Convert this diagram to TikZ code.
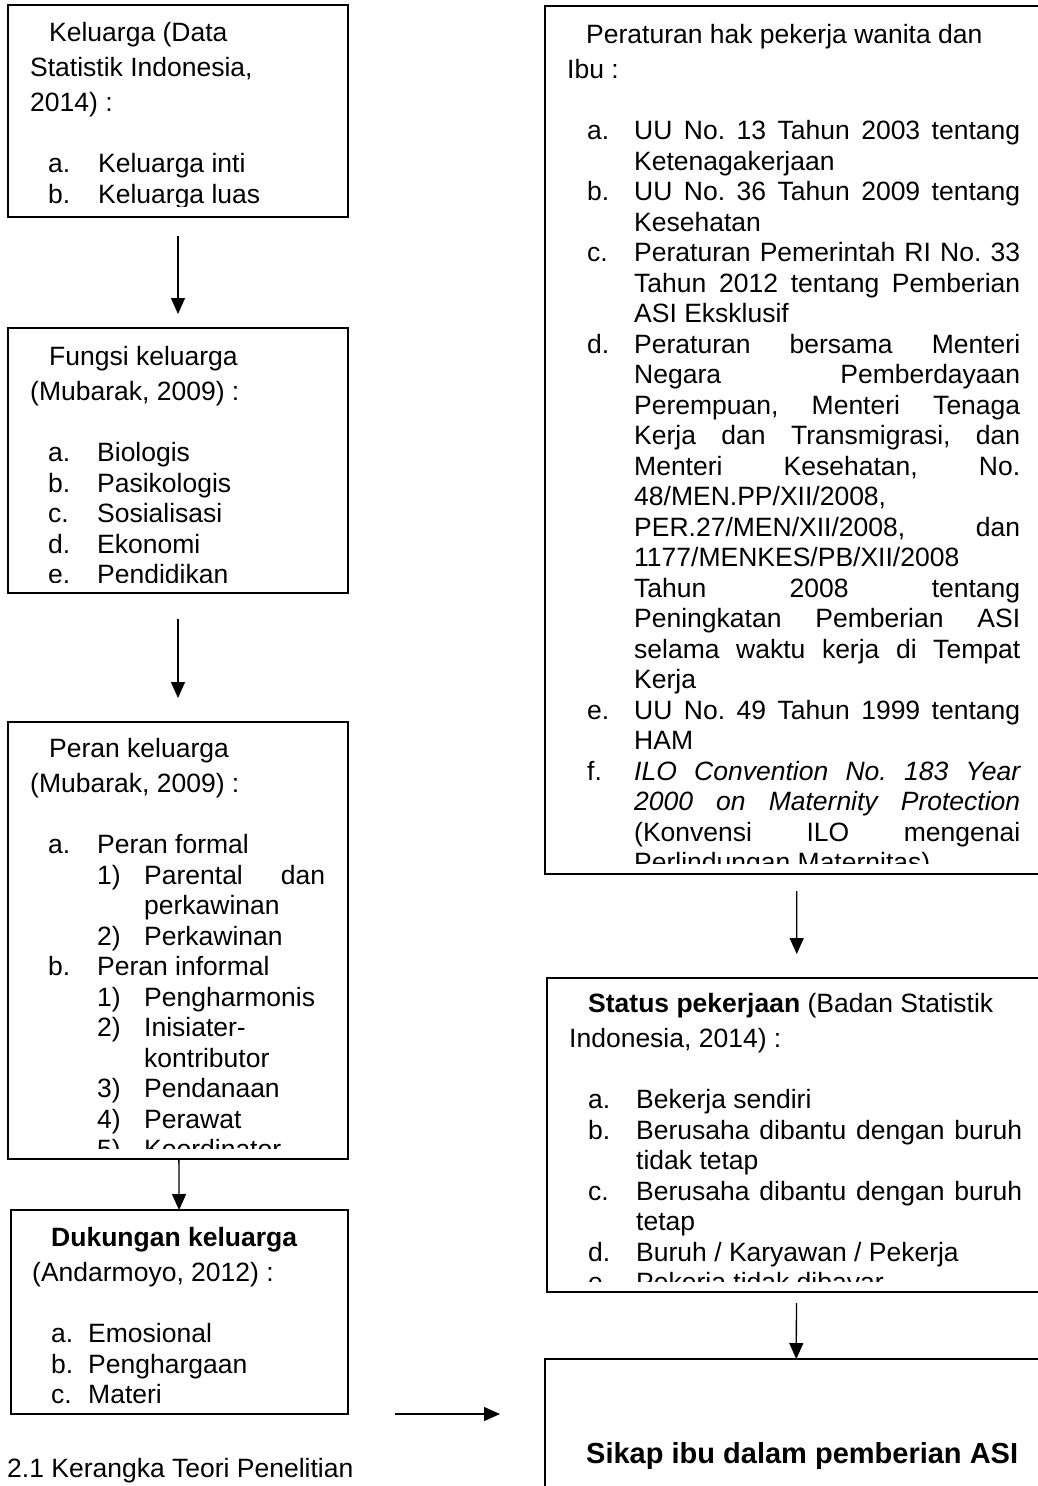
\documentclass[tikz,border=0pt]{standalone}
\usepackage{fontspec}
\setmainfont{Liberation Sans}
\usetikzlibrary{arrows.meta}

\tolerance=10000 \hbadness=10000 \hyphenpenalty=10000 \exhyphenpenalty=10000
\frenchspacing
% heading of a box: first line indented, wider line spacing
\newcommand{\kepala}[1]{{\fontsize{26.5}{35}\selectfont\parindent=19pt\indent#1\par}\vskip31.4pt}
% list item: label offset, text offset, label, text
\newcommand{\litem}[4]{\par\hangindent=#2\hangafter=1\noindent\hbox to #2{\kern#1\relax#3\hfil}#4\par}

\begin{document}
\begin{tikzpicture}[x=1pt, y=-1pt,
    kotak/.style={draw, line width=1.8pt, anchor=north west, inner sep=0pt, outer sep=0pt},
    isi/.style={anchor=base west, inner sep=0pt, text width=#1, align=justify, font=\fontsize{26.5}{30.5}\selectfont},
    panah/.style={line width=1.3pt, -{Triangle[length=16pt,width=14pt]}}]
    \useasboundingbox (0,0) rectangle (1038,1486);

    % left column
    \node[kotak, minimum width=340pt, minimum height=212pt] (keluarga) at (8,5) {};
    \node[kotak, minimum width=340pt, minimum height=265pt] (fungsi) at (8,328) {};
    \node[kotak, minimum width=340pt, minimum height=437pt] (peran) at (8,722) {};
    \node[kotak, minimum width=337pt, minimum height=204pt] (dukungan) at (11,1210) {};

    % right column
    \node[kotak, minimum width=502pt, minimum height=868pt] (peraturan) at (545,6) {};
    \node[kotak, minimum width=500pt, minimum height=314pt] (status) at (547,978) {};
    \node[kotak, minimum width=502pt, minimum height=160pt] (sikap) at (545,1359) {};

    \begin{scope}
        \clip ([yshift=11pt]keluarga.south west) rectangle (keluarga.north east);
        \node[isi=295pt] (keluarga-isi) at (30,41) {%
            \kepala{Keluarga (Data\newline Statistik Indonesia,\newline 2014) :}
            \litem{18pt}{68pt}{a.}{Keluarga inti}
            \litem{18pt}{68pt}{b.}{Keluarga luas}};
    \end{scope}

    \begin{scope}
        \clip ([yshift=11pt]fungsi.south west) rectangle (fungsi.north east);
        \node[isi=295pt] (fungsi-isi) at (30,365) {%
            \kepala{Fungsi keluarga\newline (Mubarak, 2009) :}
            \litem{18pt}{67pt}{a.}{Biologis}
            \litem{18pt}{67pt}{b.}{Pasikologis}
            \litem{18pt}{67pt}{c.}{Sosialisasi}
            \litem{18pt}{67pt}{d.}{Ekonomi}
            \litem{18pt}{67pt}{e.}{Pendidikan}};
    \end{scope}

    \begin{scope}
        \clip ([yshift=11pt]peran.south west) rectangle (peran.north east);
        \node[isi=295pt] (peran-isi) at (30,757) {%
            \kepala{Peran keluarga\newline (Mubarak, 2009) :}
            \litem{18pt}{67pt}{a.}{Peran formal}
            \litem{67pt}{114pt}{1)}{Parental dan\linebreak perkawinan}
            \litem{67pt}{114pt}{2)}{Perkawinan}
            \litem{18pt}{67pt}{b.}{Peran informal}
            \litem{67pt}{114pt}{1)}{Pengharmonis}
            \litem{67pt}{114pt}{2)}{Inisiater-\linebreak kontributor}
            \litem{67pt}{114pt}{3)}{Pendanaan}
            \litem{67pt}{114pt}{4)}{Perawat}
            \litem{67pt}{114pt}{5)}{Koordinator}};
    \end{scope}

    \begin{scope}
        \clip ([yshift=11pt]dukungan.south west) rectangle (dukungan.north east);
        \node[isi=293pt] (dukungan-isi) at (32,1246) {%
            \kepala{\textbf{Dukungan keluarga}\newline (Andarmoyo, 2012) :}
            \litem{19pt}{56pt}{a.}{Emosional}
            \litem{19pt}{56pt}{b.}{Penghargaan}
            \litem{19pt}{56pt}{c.}{Materi}};
    \end{scope}

    \begin{scope}
        \clip ([yshift=11pt]peraturan.south west) rectangle (peraturan.north east);
        \node[isi=453pt] (peraturan-isi) at (567,43) {%
            \kepala{Peraturan hak pekerja wanita dan\newline Ibu :}
            \litem{20pt}{67pt}{a.}{UU No. 13 Tahun 2003 tentang\linebreak Ketenagakerjaan}
            \litem{20pt}{67pt}{b.}{UU No. 36 Tahun 2009 tentang\linebreak Kesehatan}
            \litem{20pt}{67pt}{c.}{Peraturan Pemerintah RI No. 33\linebreak Tahun 2012 tentang Pemberian\linebreak ASI Eksklusif}
            \litem{20pt}{67pt}{d.}{Peraturan bersama Menteri\linebreak Negara Pemberdayaan\linebreak Perempuan, Menteri Tenaga\linebreak Kerja dan Transmigrasi, dan\linebreak Menteri Kesehatan, No.\linebreak 48/MEN.PP/XII/2008,\linebreak PER.27/MEN/XII/2008, dan\linebreak 1177/MENKES/PB/XII/2008\linebreak Tahun 2008 tentang\linebreak Peningkatan Pemberian ASI\linebreak selama waktu kerja di Tempat\linebreak Kerja}
            \litem{20pt}{67pt}{e.}{UU No. 49 Tahun 1999 tentang\linebreak HAM}
            \litem{20pt}{67pt}{f.}{\textit{ILO Convention No. 183 Year\linebreak 2000 on Maternity Protection}\linebreak (Konvensi ILO mengenai\linebreak Perlindungan Maternitas)}};
    \end{scope}

    \begin{scope}
        \clip ([yshift=11pt]status.south west) rectangle (status.north east);
        \node[isi=453pt] (status-isi) at (569,1012) {%
            \kepala{\textbf{Status pekerjaan} (Badan Statistik\newline Indonesia, 2014) :}
            \litem{19pt}{67pt}{a.}{Bekerja sendiri}
            \litem{19pt}{67pt}{b.}{Berusaha dibantu dengan buruh\linebreak tidak tetap}
            \litem{19pt}{67pt}{c.}{Berusaha dibantu dengan buruh\linebreak tetap}
            \litem{19pt}{67pt}{d.}{Buruh / Karyawan / Pekerja}
            \litem{19pt}{67pt}{e.}{Pekerja tidak dibayar}};
    \end{scope}

    \node[anchor=base west, inner sep=0pt, font=\fontsize{29}{32}\selectfont\bfseries] (sikap-isi) at (586,1463) {Sikap ibu dalam pemberian ASI};
    \node[anchor=base west, inner sep=0pt, font=\fontsize{26.5}{30.5}\selectfont] (judul) at (7,1477) {2.1 Kerangka Teori Penelitian};

    % arrows
    \coordinate (ujung) at (500,1414);
    \draw[panah, shorten <=19pt, shorten >=14pt] (keluarga) -- (fungsi);
    \draw[panah, shorten <=26pt, shorten >=24pt] (fungsi) -- (peran);
    \draw[panah] (peran) -- (dukungan);
    \draw[panah, shorten <=47pt] (dukungan.south east) -- (ujung);
    \draw[panah, shorten <=17pt, shorten >=24pt] (peraturan) -- (status);
    \draw[panah, shorten <=11pt] (status) -- (sikap);
\end{tikzpicture}
\end{document}
